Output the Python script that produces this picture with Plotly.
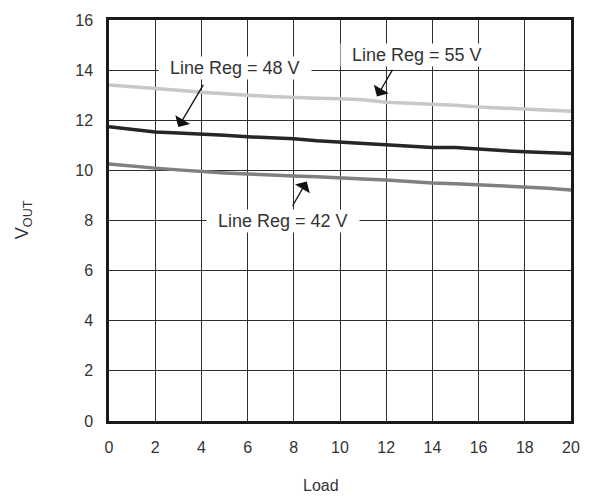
import plotly.graph_objects as go

load = list(range(0, 21))
vout_55 = [13.41, 13.35, 13.28, 13.20, 13.12, 13.05, 13.00, 12.95, 12.90, 12.88, 12.86,
           12.82, 12.72, 12.68, 12.65, 12.60, 12.53, 12.49, 12.45, 12.40, 12.36]
vout_48 = [11.74, 11.62, 11.53, 11.49, 11.46, 11.40, 11.34, 11.30, 11.26, 11.18, 11.13,
           11.09, 11.04, 10.97, 10.91, 10.91, 10.84, 10.79, 10.74, 10.70, 10.67]
vout_42 = [10.25, 10.16, 10.09, 10.02, 9.95, 9.90, 9.86, 9.81, 9.78, 9.75, 9.72,
           9.66, 9.62, 9.55, 9.50, 9.47, 9.43, 9.39, 9.35, 9.29, 9.22]

x_ticks = list(range(0, 21, 2))
y_ticks = list(range(0, 17, 2))

FONT = "Liberation Sans, Arial, sans-serif"
TXT = "#333333"

fig = go.Figure()
fig.add_trace(go.Scatter(x=load, y=vout_55, mode="lines", line=dict(color="#c8c8c8", width=3.5), name="55 V"))
fig.add_trace(go.Scatter(x=load, y=vout_48, mode="lines", line=dict(color="#262626", width=3.5), name="48 V"))
fig.add_trace(go.Scatter(x=load, y=vout_42, mode="lines", line=dict(color="#808080", width=3.5), name="42 V"))

pad = "\u00a0\u00a0"
labels = [
    ("Line Reg = 48 V", 5.45, 14.07, 4.12, 13.47, 3.0, 11.73),
    ("Line Reg = 55 V", 13.35, 14.59, 12.31, 14.07, 11.6, 12.95),
    ("Line Reg = 42 V", 7.54, 8.0, 7.91, 8.53, 8.56, 9.56),
]
for text, tx, ty, ax, ay, hx, hy in labels:
    fig.add_annotation(x=tx, y=ty, xref="x", yref="y", text=pad + text + pad, showarrow=False,
                       xanchor="center", yanchor="middle",
                       bgcolor="white", borderpad=1, font=dict(family=FONT, size=18, color=TXT))
    fig.add_annotation(x=hx, y=hy, xref="x", yref="y", ax=ax, ay=ay, axref="x", ayref="y",
                       text="", showarrow=True, arrowhead=1, arrowsize=2.2, arrowwidth=1.3,
                       arrowcolor="#111111")

fig.add_annotation(x=0.458, y=-0.16, xref="paper", yref="paper", text="Load", showarrow=False,
                   xanchor="center", yanchor="middle",
                   font=dict(family=FONT, size=16, color=TXT))
fig.add_annotation(x=-0.186, y=0.501, xref="paper", yref="paper", text="V<sub>OUT</sub>",
                   xanchor="center", yanchor="middle",
                   textangle=-90, showarrow=False, font=dict(family=FONT, size=18, color=TXT))

axis_common = dict(showgrid=True, gridcolor="#2e2e2e", gridwidth=1.4, showline=True,
                   linecolor="#1a1a1a", linewidth=2.5, mirror=True, zeroline=False,
                   ticks="", tickfont=dict(family=FONT, size=16, color=TXT))
fig.update_xaxes(range=[0, 20], tickvals=x_ticks, ticklabelstandoff=10, **axis_common)
fig.update_yaxes(range=[0, 16], tickvals=y_ticks, ticklabelstandoff=10, **axis_common)

fig.update_layout(width=592, height=498, margin=dict(l=108.5, r=19.5, t=16, b=77),
                  plot_bgcolor="white", paper_bgcolor="white", showlegend=False)

fig.write_html("out.html")
